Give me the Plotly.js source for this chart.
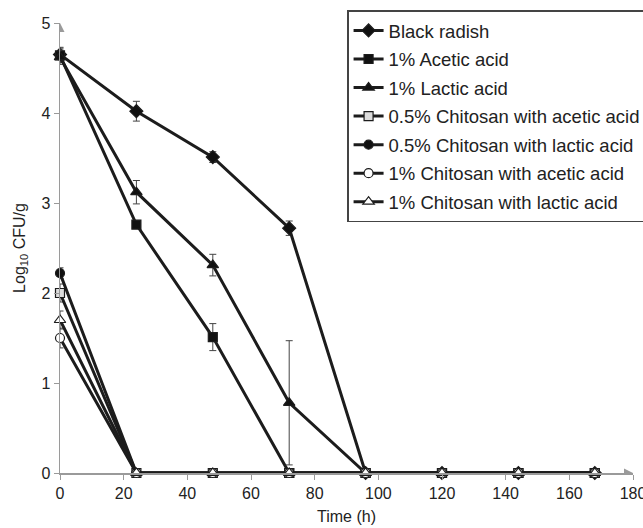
<!DOCTYPE html>
<html>
<head>
<meta charset="utf-8">
<script src="https://cdn.plot.ly/plotly-3.0.1.min.js"></script>
<style>html,body{margin:0;padding:0;background:#fff;}#chart{width:643px;height:528px;}</style>
</head>
<body>
<div id="chart"></div>
<script>
const time = [0, 24, 48, 72, 96, 120, 144, 168];
const seriesNames = [
  "Black radish",
  "1% Acetic acid",
  "1% Lactic acid",
  "0.5% Chitosan with acetic acid",
  "0.5% Chitosan with lactic acid",
  "1% Chitosan with acetic acid",
  "1% Chitosan with lactic acid"
];
const blackRadish = [4.65, 4.02, 3.51, 2.72, 0, 0, 0, 0];
const blackRadishErr = [0.08, 0.11, 0.06, 0.08, 0, 0, 0, 0];
const aceticAcid1 = [4.64, 2.76, 1.51, 0, 0, 0, 0, 0];
const aceticAcid1Err = [0.08, 0.03, 0.15, 0, 0, 0, 0, 0];
const lacticAcid1 = [4.62, 3.12, 2.31, 0.78, 0, 0, 0, 0];
const lacticAcid1Err = [0.08, 0.13, 0.12, 0.69, 0, 0, 0, 0];
const chitosan05Acetic = [2.0, 0, 0, 0, 0, 0, 0, 0];
const chitosan05AceticErr = [0.1, 0, 0, 0, 0, 0, 0, 0];
const chitosan05Lactic = [2.22, 0, 0, 0, 0, 0, 0, 0];
const chitosan05LacticErr = [0.06, 0, 0, 0, 0, 0, 0, 0];
const chitosan1Acetic = [1.5, 0, 0, 0, 0, 0, 0, 0];
const chitosan1AceticErr = [0.11, 0, 0, 0, 0, 0, 0, 0];
const chitosan1Lactic = [1.7, 0, 0, 0, 0, 0, 0, 0];
const chitosan1LacticErr = [0.1, 0, 0, 0, 0, 0, 0, 0];

const values = [blackRadish, aceticAcid1, lacticAcid1, chitosan05Acetic, chitosan05Lactic, chitosan1Acetic, chitosan1Lactic];
const errors = [blackRadishErr, aceticAcid1Err, lacticAcid1Err, chitosan05AceticErr, chitosan05LacticErr, chitosan1AceticErr, chitosan1LacticErr];
const symbols = ["diamond", "square", "triangle-up", "square", "circle", "circle", "triangle-up"];
const fills = ["#111", "#111", "#111", "#dcdcdc", "#111", "#ffffff", "#ffffff"];
const sizes = [10, 9, 10, 9, 9, 9, 10];

const ink = "#1c1c1c";
const traces = values.map((v, i) => ({
  x: time, y: v, name: seriesNames[i], type: "scatter", mode: "lines+markers",
  legendgroup: "g" + i, cliponaxis: false,
  line: {color: ink, width: 3},
  marker: {symbol: symbols[i], size: sizes[i], color: fills[i], line: {color: ink, width: 1.2}},
  error_y: {type: "data", array: errors[i], visible: true, color: "#444", thickness: 1, width: 3.5}
}));

const font = "'Liberation Sans', Arial, sans-serif";
const axisCol = "#9a9a9a";
const layout = {
  width: 643, height: 528,
  margin: {l: 60, r: 10, t: 23, b: 55, autoexpand: false},
  paper_bgcolor: "#fff", plot_bgcolor: "#fff",
  font: {family: font, size: 16, color: "#222"},
  showlegend: true,
  legend: {
    x: 0.501, xanchor: "left", y: 1.028, yanchor: "top",
    bordercolor: "#444", borderwidth: 1.5, bgcolor: "#fff",
    font: {family: font, size: 18.5, color: "#222"},
    tracegroupgap: 1.5, traceorder: "grouped"
  },
  xaxis: {
    range: [0, 180], dtick: 20, tick0: 0,
    showline: true, linecolor: axisCol, linewidth: 1.5,
    ticks: "outside", ticklen: 5, tickcolor: axisCol, tickwidth: 1,
    showgrid: false, zeroline: false, ticklabeloverflow: "allow",
    tickfont: {family: font, size: 16, color: "#222"},
    title: {text: "Time (h)", font: {family: font, size: 16, color: "#222"}, standoff: 10}
  },
  yaxis: {
    range: [0, 5], dtick: 1, tick0: 0,
    showline: true, linecolor: axisCol, linewidth: 1.5,
    ticks: "outside", ticklen: 5, tickcolor: axisCol, tickwidth: 1,
    showgrid: false, zeroline: false,
    tickfont: {family: font, size: 16, color: "#222"},
    title: {text: "Log<sub>10</sub> CFU/g", font: {family: font, size: 16, color: "#222"}, standoff: 12}
  },
  shapes: [
    {type: "path", xref: "x", yref: "y", xsizemode: "pixel", ysizemode: "pixel", xanchor: 180, yanchor: 0,
     path: "M -9 -4.5 L 0 0 L -9 4.5 Z", fillcolor: axisCol, line: {width: 0}},
    {type: "path", xref: "x", yref: "y", xsizemode: "pixel", ysizemode: "pixel", xanchor: 0, yanchor: 5,
     path: "M -4.5 -9 L 0 0 L 4.5 -9 Z", fillcolor: axisCol, line: {width: 0}}
  ]
};

Plotly.newPlot("chart", traces, layout, {displayModeBar: false, staticPlot: true});
</script>
</body>
</html>
